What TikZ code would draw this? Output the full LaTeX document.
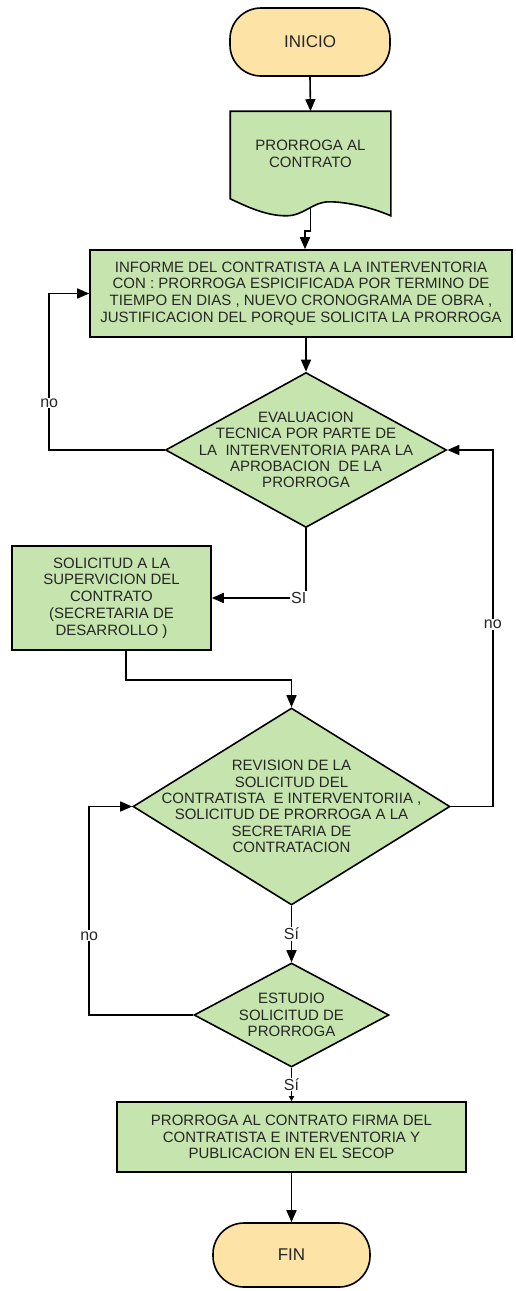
\documentclass[tikz,border=0pt]{standalone}
\usepackage{fontspec}
\setmainfont{Liberation Sans}
\usetikzlibrary{arrows.meta,shapes.geometric,backgrounds}

\definecolor{verde}{HTML}{C6E5AE}
\definecolor{crema}{HTML}{FDE3A6}

\tikzset{
    proceso/.style={draw, fill=verde, line width=1.6pt, align=center, inner sep=2pt,
        text=black!85, font=\fontsize{15}{16.7}\selectfont},
    terminal/.style={draw, fill=crema, line width=1.6pt, rounded corners=31pt,
        text=black!85, font=\fontsize{17}{19}\selectfont},
    decision/.style={diamond, draw, fill=verde, line width=1.6pt, inner sep=0pt},
    texto/.style={align=center, text=black!85, font=\fontsize{15}{16.4}\selectfont},
    etiqueta/.style={fill=white, inner sep=1pt, text=black!85, font=\fontsize{16}{18}\selectfont},
}

\begin{document}
\begin{tikzpicture}[x=1pt, y=-1pt, >={Triangle[length=12pt,width=10pt]}, line width=1.6pt]

        \useasboundingbox (0,0) rectangle (515,1291);

        % Nodo INICIO
        \node[terminal, minimum width=160pt, minimum height=68pt] (inicio) at (310,42) {INICIO};

        % Documento PRORROGA AL CONTRATO
        \node[texto, minimum width=159pt, minimum height=84pt, inner sep=0pt] (doc) at (310.5,154)
            {PRORROGA AL\\CONTRATO};
        \begin{scope}[on background layer]
            \draw[fill=verde, line width=1.6pt] (doc.north west) -- (doc.north east)
                -- ([yshift=-19pt]doc.south east)
                .. controls ([xshift=140pt,yshift=-10pt]doc.south west) and ([xshift=115pt,yshift=-5pt]doc.south west)
                .. ([xshift=99pt,yshift=-5pt]doc.south west)
                .. controls ([xshift=82pt,yshift=-5pt]doc.south west) and ([xshift=74pt,yshift=-19pt]doc.south west)
                .. ([xshift=56pt,yshift=-19pt]doc.south west)
                .. controls ([xshift=35pt,yshift=-19pt]doc.south west) and ([xshift=15pt,yshift=-9pt]doc.south west)
                .. ([yshift=-2pt]doc.south west) -- cycle;
        \end{scope}

        % Informe del contratista
        \node[proceso, minimum width=422pt, minimum height=87pt] (informe) at (301,293.5) {
            INFORME DEL CONTRATISTA A LA INTERVENTORIA\\
            CON : PRORROGA ESPICIFICADA POR TERMINO DE\\
            TIEMPO EN DIAS , NUEVO CRONOGRAMA DE OBRA ,\\
            JUSTIFICACION DEL PORQUE SOLICITA LA PRORROGA
        };

        % Evaluacion tecnica
        \node[decision, minimum width=281pt, minimum height=155pt,
            label={[texto]center:{EVALUACION\\TECNICA POR PARTE DE\\LA~~INTERVENTORIA PARA LA\\APROBACION~~DE LA\\PRORROGA}}]
            (evaluacion) at (306,450) {};

        % Solicitud a la supervision
        \node[proceso, minimum width=199pt, minimum height=104pt] (solicitud) at (111.5,598) {
            SOLICITUD A LA\\
            SUPERVICION DEL\\
            CONTRATO\\
            (SECRETARIA DE\\
            DESARROLLO )
        };

        % Revision de la solicitud
        \node[decision, minimum width=317pt, minimum height=197pt,
            label={[texto]center:{REVISION DE LA\\SOLICITUD DEL\\CONTRATISTA~~E INTERVENTORIIA ,\\SOLICITUD DE PRORROGA A LA\\SECRETARIA DE\\CONTRATACION}}]
            (revision) at (291.5,806.5) {};

        % Estudio solicitud
        \node[decision, minimum width=195pt, minimum height=104pt,
            label={[texto]center:{ESTUDIO\\SOLICITUD DE\\PRORROGA}}]
            (estudio) at (291.5,1015) {};

        % Firma y publicacion
        \node[proceso, minimum width=349pt, minimum height=70pt] (firma) at (291.5,1137) {
            PRORROGA AL CONTRATO FIRMA DEL\\
            CONTRATISTA E INTERVENTORIA Y\\
            PUBLICACION EN EL SECOP
        };

        % Nodo FIN
        \node[terminal, minimum width=157pt, minimum height=64pt] (fin) at (291.5,1255) {FIN};

        % ========================================================
        % CONECTORES
        % ========================================================

        \draw[->] (inicio.south) -- (doc.north);
        \draw[->] ([yshift=-11pt]doc.south) -- ++(0,23) -| ([xshift=4pt]informe.north);
        \draw[->] (evaluacion.north |- informe.south) -- (evaluacion.north);

        % no: vuelve al informe
        \draw[->] (evaluacion.west) -| node[etiqueta, pos=0.65] {no} ([xshift=-40pt]informe.west) -- (informe.west);

        % SI: solicitud a la supervision
        \draw[->] (evaluacion.south) |- node[etiqueta, pos=0.5, anchor=east, xshift=2pt] {SI} (solicitud.east);

        \draw[->] ([xshift=14.5pt]solicitud.south) |- ([yshift=27pt]revision.north) -- (revision.north);

        % no: vuelve a la evaluacion
        \draw[->] (revision.east) -- ++(42,0) |- node[etiqueta, pos=0.255] {no} (evaluacion.east);

        \draw[->] (revision.south) -- node[etiqueta] {Sí} (estudio.north);

        % no: vuelve a la revision
        \draw[->] (estudio.west) -| node[etiqueta, pos=0.69] {no} ([xshift=-43pt]revision.west) -- (revision.west);

        \draw[-{Triangle[length=5pt,width=5pt]}] (estudio.south) -- node[etiqueta] {Sí} (firma.north);
        \draw[->] (firma.south) -- (fin.north);

\end{tikzpicture}
\end{document}
